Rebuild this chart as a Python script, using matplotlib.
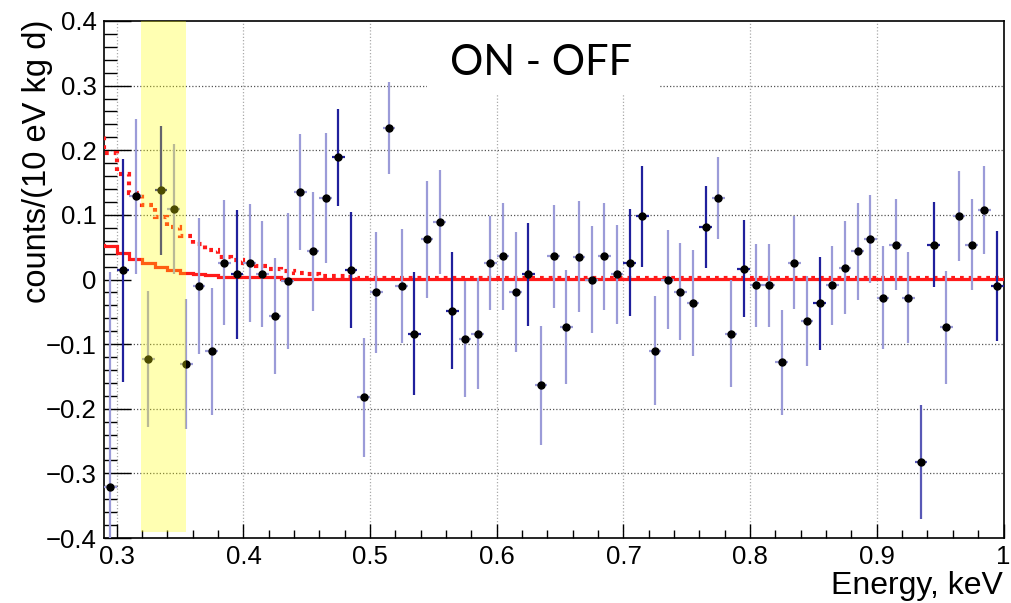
import matplotlib
matplotlib.use("Agg")
import matplotlib.pyplot as plt
from matplotlib.patches import Rectangle
from matplotlib.ticker import FixedLocator, MultipleLocator

# ---------------- data ----------------
energy = [0.295, 0.305, 0.315, 0.325, 0.335, 0.345, 0.355, 0.365, 0.375, 0.385,
          0.395, 0.405, 0.415, 0.425, 0.435, 0.445, 0.455, 0.465, 0.475, 0.485,
          0.495, 0.505, 0.515, 0.525, 0.535, 0.545, 0.555, 0.565, 0.575, 0.585,
          0.595, 0.605, 0.615, 0.625, 0.635, 0.645, 0.655, 0.665, 0.675, 0.685,
          0.695, 0.705, 0.715, 0.725, 0.735, 0.745, 0.755, 0.765, 0.775, 0.785,
          0.795, 0.805, 0.815, 0.825, 0.835, 0.845, 0.855, 0.865, 0.875, 0.885,
          0.895, 0.905, 0.915, 0.925, 0.935, 0.945, 0.955, 0.965, 0.975, 0.985,
          0.995]
counts = [-0.321, 0.014, 0.129, -0.123, 0.138, 0.109, -0.131, -0.010, -0.111, 0.026,
          0.008, 0.026, 0.008, -0.057, -0.002, 0.135, 0.044, 0.126, 0.189, 0.015,
          -0.182, -0.020, 0.234, -0.010, -0.084, 0.062, 0.089, -0.048, -0.092, -0.084,
          0.026, 0.036, -0.019, 0.008, -0.164, 0.036, -0.074, 0.035, 0.000, 0.036,
          0.008, 0.026, 0.098, -0.110, 0.000, -0.019, -0.037, 0.081, 0.126, -0.084,
          0.017, -0.009, -0.009, -0.128, 0.026, -0.064, -0.037, -0.009, 0.018, 0.044,
          0.062, -0.028, 0.054, -0.028, -0.282, 0.054, -0.074, 0.098, 0.054, 0.108,
          -0.010]
errors = [0.332, 0.173, 0.120, 0.105, 0.100, 0.100, 0.101, 0.105, 0.098, 0.097,
          0.100, 0.091, 0.082, 0.090, 0.105, 0.090, 0.092, 0.100, 0.075, 0.090,
          0.092, 0.093, 0.071, 0.088, 0.095, 0.091, 0.080, 0.091, 0.090, 0.086,
          0.073, 0.083, 0.093, 0.080, 0.092, 0.080, 0.088, 0.086, 0.083, 0.083,
          0.077, 0.083, 0.078, 0.084, 0.076, 0.075, 0.082, 0.063, 0.063, 0.083,
          0.075, 0.064, 0.064, 0.081, 0.072, 0.070, 0.072, 0.061, 0.072, 0.075,
          0.068, 0.080, 0.070, 0.071, 0.088, 0.066, 0.087, 0.070, 0.070, 0.068,
          0.085]
# bar shade per point: L = light, D = dark, M = medium
shade = ['L', 'D', 'L', 'L', 'D', 'L', 'L', 'L', 'L', 'L',
         'D', 'L', 'L', 'L', 'L', 'L', 'L', 'L', 'D', 'D',
         'L', 'L', 'L', 'L', 'D', 'L', 'L', 'D', 'L', 'L',
         'L', 'L', 'L', 'D', 'L', 'L', 'L', 'L', 'L', 'L',
         'L', 'D', 'D', 'L', 'L', 'L', 'L', 'D', 'L', 'L',
         'D', 'L', 'L', 'L', 'L', 'L', 'D', 'L', 'L', 'L',
         'L', 'L', 'L', 'L', 'M', 'D', 'L', 'L', 'L', 'L',
         'D']
bin_half_width = 0.005

# model curves (step histograms)
dotted_edges = [0.28, 0.29, 0.30, 0.31, 0.32, 0.33, 0.34, 0.35, 0.36, 0.37, 0.38,
                0.39, 0.40, 0.41, 0.42, 0.43, 0.44, 0.45, 0.46, 0.47, 0.48, 0.49,
                0.60, 1.00]
dotted_vals = [0.228, 0.195, 0.164, 0.134, 0.115, 0.097, 0.081, 0.067, 0.055, 0.045,
               0.035, 0.030, 0.026, 0.021, 0.017, 0.013, 0.010, 0.008, 0.006, 0.005,
               0.004, 0.003, 0.002]
solid_edges = [0.28, 0.29, 0.30, 0.31, 0.32, 0.33, 0.34, 0.35, 0.36, 0.37, 0.38,
               0.43, 1.00]
solid_vals = [0.053, 0.052, 0.041, 0.031, 0.025, 0.019, 0.014, 0.010, 0.008, 0.007,
              0.004, 0.001]

band_x = [0.319, 0.355]
band_y = [-0.39, 0.40]

x_ticks = [0.3, 0.4, 0.5, 0.6, 0.7, 0.8, 0.9, 1.0]
x_ticklabels = ["0.3", "0.4", "0.5", "0.6", "0.7", "0.8", "0.9", "1"]
y_ticks = [-0.4, -0.3, -0.2, -0.1, 0.0, 0.1, 0.2, 0.3, 0.4]
y_ticklabels = ["\u22120.4", "\u22120.3", "\u22120.2", "\u22120.1", "0",
                "0.1", "0.2", "0.3", "0.4"]

title_text = "ON - OFF"
xlabel = "Energy, keV"
ylabel = "counts/(10 eV kg d)"

# ---------------- figure ----------------
W, H = 1011, 603
fig = plt.figure(figsize=(W / 100, H / 100), dpi=100)
ax_l, ax_r, ax_t, ax_b = 103.5, 1003.5, 21.0, 538.0
ax = fig.add_axes([ax_l / W, 1 - ax_b / H, (ax_r - ax_l) / W, (ax_b - ax_t) / H])
ax.set_xlim(0.2895, 1.0)
ax.set_ylim(-0.4, 0.4)

sans = ['Liberation Sans', 'DejaVu Sans']

# grid
ax.set_axisbelow(True)
for yv in [-0.3, -0.2, -0.1, 0.1, 0.2, 0.3]:
    ax.axhline(yv, color='#555555', lw=0.9, ls=(0, (1, 1.6)), zorder=0.5)
for xv in [0.3, 0.4, 0.5, 0.6, 0.7, 0.8, 0.9]:
    ax.axvline(xv, color='#aaaaaa', lw=0.9, ls=(0, (1, 1.6)), zorder=0.5)

# white box behind the title
ax.add_patch(Rectangle((0.3594, 0.857), 0.618 - 0.3594, 0.2, transform=ax.transAxes,
                       facecolor='white', edgecolor='none', zorder=0.8, clip_on=True))

# model curves
ax.stairs(solid_vals, solid_edges, baseline=None, color='#ff1a1a', lw=2.3, zorder=3)
ax.stairs(dotted_vals, dotted_edges, baseline=None, color='#ff1a1a', lw=3.0,
          ls=(0, (0.9, 1.2)), zorder=3)

# data points
colors = {'L': '#9b9bd8', 'D': '#20209c', 'M': '#5858b6'}
for e, c, s, k in zip(energy, counts, errors, shade):
    ax.errorbar([e], [c], yerr=[s], xerr=[bin_half_width], fmt='none',
                ecolor=colors[k], elinewidth=1.6, capsize=0, zorder=4)
ax.plot(energy, counts, 'o', color='black', ms=5.0, zorder=5, ls='none')

# yellow band (on top, translucent)
ax.add_patch(Rectangle((band_x[0], band_y[0]), band_x[1] - band_x[0],
                       band_y[1] - band_y[0], facecolor='#ffff00', alpha=0.3,
                       edgecolor='none', zorder=10))

# axes / ticks
ax.xaxis.set_major_locator(FixedLocator(x_ticks))
ax.set_xticklabels(x_ticklabels)
ax.xaxis.set_minor_locator(MultipleLocator(0.02))
ax.yaxis.set_major_locator(FixedLocator(y_ticks))
ax.set_yticklabels(y_ticklabels)
ax.yaxis.set_minor_locator(MultipleLocator(0.02))
ax.tick_params(axis='both', which='both', direction='in', colors='black',
               labelsize=18.5, width=1.0)
ax.tick_params(axis='y', which='major', length=19.5, pad=5)
ax.tick_params(axis='y', which='minor', length=9.5)
ax.tick_params(axis='x', which='major', length=10, pad=5)
ax.tick_params(axis='x', which='minor', length=5.5)
for lab in ax.get_xticklabels() + ax.get_yticklabels():
    lab.set_fontfamily(sans)
for sp in ax.spines.values():
    sp.set_linewidth(1.2)
    sp.set_color('black')

# texts
ax.text(0.486, 0.8956, title_text, transform=ax.transAxes, ha='center', va='baseline',
        fontsize=30, family=['Lato', 'DejaVu Sans'], color='black', zorder=6)
fig.text(1003 / W, 1 - 594 / H, xlabel, ha='right', va='baseline', fontsize=23,
         family=sans)
fig.text(38 / W, 1 - 20 / H, ylabel, ha='center', va='top', rotation=90,
         fontsize=23.5, family=sans)

fig.savefig('out.png', dpi=100)
